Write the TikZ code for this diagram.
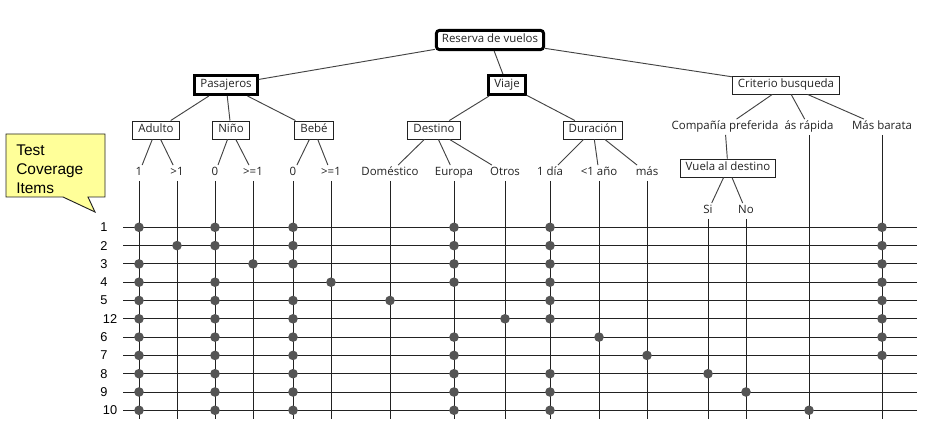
\documentclass[tikz,border=0pt]{standalone}
\usepackage{fontspec}
\setmainfont{Open Sans}
\newfontfamily\arialf{Liberation Sans}
\usetikzlibrary{calc}
\definecolor{ink}{HTML}{222222}
\definecolor{dotc}{HTML}{555555}
\definecolor{callfill}{HTML}{FFFF99}
\begin{document}
\begin{tikzpicture}[x=0.75pt,y=-0.75pt,
  every node/.style={font=\fontsize{8.6}{10}\selectfont, text=ink},
  thinbox/.style={draw=ink, line width=0.7pt, inner xsep=4.2pt, inner ysep=2.5pt, text height=6.5pt, text depth=2pt},
  thickbox/.style={draw=black, line width=2pt, inner xsep=4.2pt, inner ysep=3pt, text height=6.5pt, text depth=2pt},
  rootbox/.style={thickbox, rounded corners=2.5pt, line width=2.2pt},
  leaf/.style={inner sep=1.5pt, text height=6.5pt, text depth=2pt},
  conn/.style={draw=ink!85, line width=0.7pt},
  gridline/.style={draw=ink, line width=0.75pt},
  rowlab/.style={font=\arialf\fontsize{9.6}{11}\selectfont, text=black, inner sep=0pt},
  callout/.style={draw=ink, line width=0.7pt, fill=callfill}]
\useasboundingbox (0,0) rectangle (930,434);

% tree boxes
\node[rootbox] (res) at (490,40) {Reserva de vuelos};
\node[thickbox] (pas) at (226,85) {Pasajeros};
\node[thickbox] (via) at (507,85) {Viaje};
\node[thinbox] (crit) at (786,85) {Criterio busqueda};
\node[thinbox] (adu) at (156,130) {Adulto};
\node[thinbox] (nin) at (231,130) {Niño};
\node[thinbox] (beb) at (314,130) {Bebé};
\node[thinbox] (des) at (434,130) {Destino};
\node[thinbox] (dur) at (593,130) {Duración};
\node[thinbox] (vue) at (728,168) {Vuela al destino};

% leaves
\node[leaf] (c1) at (139,173) {1};
\node[leaf] (c2) at (177,173) {>1};
\node[leaf] (c3) at (215,173) {0};
\node[leaf] (c4) at (253,173) {>=1};
\node[leaf] (c5) at (293,173) {0};
\node[leaf] (c6) at (331,173) {>=1};
\node[leaf] (c7) at (390,173) {Doméstico};
\node[leaf] (c8) at (454,173) {Europa};
\node[leaf] (c9) at (505,173) {Otros};
\node[leaf] (c10) at (550,173) {1 día};
\node[leaf] (c11) at (599,173) {<1 año};
\node[leaf] (c12) at (647,173) {más};
\node[leaf] (comp) at (725,127) {Compañía preferida};
\node[leaf] (c13) at (708,211) {Si};
\node[leaf] (c14) at (746,211) {No};
\node[leaf] (c15) at (809,127) {ás rápida};
\node[leaf] (c16) at (882,127) {Más barata};

% tree connectors
\draw[conn] (res) -- (pas);
\draw[conn] (res) -- (via);
\draw[conn] (res) -- (crit);
\draw[conn] (pas) -- (adu);
\draw[conn] (pas) -- (nin);
\draw[conn] (pas) -- (beb);
\draw[conn] (via) -- (des);
\draw[conn] (via) -- (dur);
\draw[conn] (crit) -- (comp);
\draw[conn] (crit) -- (c15);
\draw[conn] (crit) -- (c16);
\draw[conn] (adu) -- (c1);
\draw[conn] (adu) -- (c2);
\draw[conn] (nin) -- (c3);
\draw[conn] (nin) -- (c4);
\draw[conn] (beb) -- (c5);
\draw[conn] (beb) -- (c6);
\draw[conn] (des) -- (c7);
\draw[conn] (des) -- (c8);
\draw[conn] (des) -- (c9);
\draw[conn] (dur) -- (c10);
\draw[conn] (dur) -- (c11);
\draw[conn] (dur) -- (c12);
\draw[conn] (comp) -- (vue);
\draw[conn] (vue) -- (c13);
\draw[conn] (vue) -- (c14);

% column lines
\coordinate (bot) at (0,419);
\foreach \c in {1,...,16} {
  \draw[gridline] (c\c.south) -- (c\c.south |- bot);
}

% rows
\foreach \lab/\yy [count=\i] in {1/227.3, 2/245.6, 3/263.9, 4/282.2, 5/300.5, 12/318.8, 6/337.1, 7/355.4, 8/373.7, 9/392, 10/410.3} {
  \pgfmathsetmacro\lx{\lab>9 ? 110 : 104}
  \coordinate (rl\i) at (123,\yy);
  \coordinate (rr\i) at (917,\yy);
  \node[rowlab] (rn\i) at (\lx,\yy) {\lab};
  \draw[gridline] (rl\i) -- (rr\i);
}

% dots
\foreach \r/\cols in {1/{1,3,5,8,10,16}, 2/{2,3,5,8,10,16}, 3/{1,4,5,8,10,16}, 4/{1,3,6,8,10,16}, 5/{1,3,5,7,10,16}, 6/{1,3,5,9,10,16}, 7/{1,3,5,8,11,16}, 8/{1,3,5,8,12,16}, 9/{1,3,5,8,10,13}, 10/{1,3,5,8,10,14}, 11/{1,3,5,8,10,15}} {
  \foreach \c in \cols {
    \fill[dotc] (c\c.south |- rl\r) circle[radius=3.6pt];
  }
}

% callout
\draw[callout] (6,134) -- (105,134) -- (105,197) -- (88,197) -- (95,212) -- (63,197) -- (6,197) -- cycle;
\node[anchor=west, align=left, inner sep=0pt, text=black, font=\arialf\fontsize{11.6}{14.25}\selectfont] (cap) at (16,169) {Test\\Coverage\\Items};
\end{tikzpicture}
\end{document}
